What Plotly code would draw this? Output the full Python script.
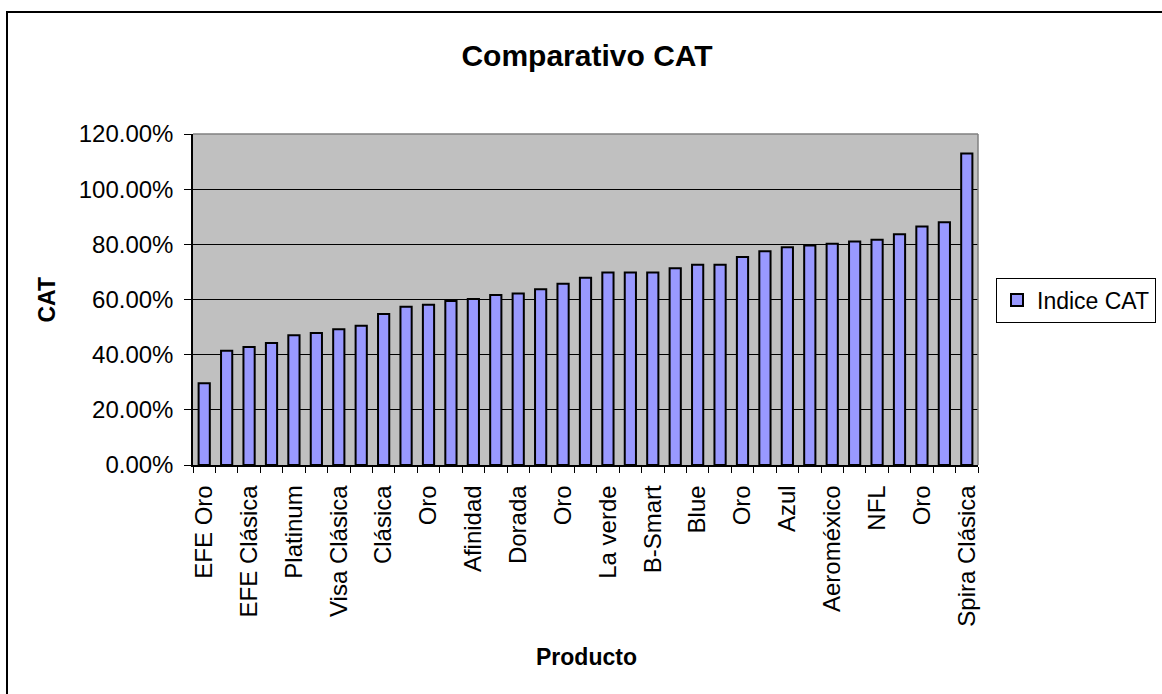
import plotly.graph_objects as go

# Data
cat_values = [29.6, 41.4, 42.8, 44.2, 47.0, 47.9, 49.2, 50.5, 54.7, 57.4,
              58.1, 59.5, 60.2, 61.6, 62.2, 63.7, 65.7, 67.9, 69.8, 69.8,
              69.8, 71.3, 72.6, 72.6, 75.4, 77.5, 78.9, 79.6, 80.2, 81.0,
              81.7, 83.7, 86.5, 88.0, 112.9]
tick_labels = ["EFE Oro", "EFE Clásica", "Platinum", "Visa Clásica", "Clásica",
               "Oro", "Afinidad", "Dorada", "Oro", "La verde", "B-Smart",
               "Blue", "Oro", "Azul", "Aeroméxico", "NFL", "Oro", "Spira Clásica"]
positions = list(range(len(cat_values)))
tick_positions = positions[::2]

W, H = 1162, 694
L, R, T, B = 193, 978, 134, 465
pw, ph = R - L, B - T

def px_x(p):
    return (p - L) / pw

def px_y(p):
    return (B - p) / ph

FONT = "Liberation Sans, Arial, sans-serif"

fig = go.Figure()
fig.add_trace(go.Bar(
    x=positions,
    y=[v / 100 for v in cat_values],
    name="Indice CAT",
    width=0.5,
    marker=dict(color="#9999FF", line=dict(color="black", width=2)),
))

fig.update_layout(
    width=W, height=H,
    margin=dict(l=L, r=W - R, t=T, b=H - B, autoexpand=False),
    paper_bgcolor="white",
    plot_bgcolor="#C0C0C0",
    font=dict(family=FONT, size=24, color="black"),
    title=dict(text="<b>Comparativo CAT</b>", x=587 / W, xanchor="center",
               y=1 - 55 / H, yanchor="middle",
               font=dict(family=FONT, size=30, color="black")),
    showlegend=True,
    legend=dict(x=px_x(1156), xanchor="right", y=px_y(300), yanchor="middle",
                bordercolor="black", borderwidth=1, bgcolor="white",
                font=dict(family=FONT, size=23), itemwidth=30),
    bargap=0.5,
)

fig.update_xaxes(
    range=[-0.5, len(cat_values) - 0.5],
    tickmode="array", tickvals=tick_positions, ticktext=tick_labels,
    tickangle=-90, ticks="", showgrid=False, zeroline=False,
    showline=True, linecolor="black", linewidth=1.5,
    ticklabelstandoff=9,
    tickfont=dict(family=FONT, size=24),
    minor=dict(ticks="outside", tick0=-0.5, dtick=1, ticklen=6,
               tickcolor="black", tickwidth=1, showgrid=False),
)
fig.update_yaxes(
    range=[0, 1.2], tickmode="linear", tick0=0, dtick=0.2, tickformat=".2%",
    ticks="outside", ticklen=7, tickcolor="black", ticklabelstandoff=6,
    showgrid=True, gridcolor="black", gridwidth=1, zeroline=False,
    showline=True, linecolor="black", linewidth=1.5,
    tickfont=dict(family=FONT, size=24),
)

# plot-area border (top/right) and outer chart frame
fig.add_shape(type="line", xref="paper", yref="paper", x0=0, x1=1, y0=1, y1=1,
              line=dict(color="#808080", width=1.5))
fig.add_shape(type="line", xref="paper", yref="paper", x0=1, x1=1, y0=0, y1=1,
              line=dict(color="#808080", width=1.5))
fig.add_shape(type="rect", xref="paper", yref="paper",
              x0=px_x(7), x1=px_x(1175), y0=px_y(12), y1=px_y(710),
              line=dict(color="black", width=2), fillcolor="rgba(0,0,0,0)")

fig.add_annotation(text="<b>CAT</b>", xref="paper", yref="paper",
                   x=px_x(46), y=0.5, xanchor="center", yanchor="middle",
                   textangle=-90, showarrow=False,
                   font=dict(family=FONT, size=23, color="black"))
fig.add_annotation(text="<b>Producto</b>", xref="paper", yref="paper",
                   x=px_x(586), y=px_y(657), xanchor="center", yanchor="middle",
                   showarrow=False,
                   font=dict(family=FONT, size=23, color="black"))

fig.write_html("out.html")
